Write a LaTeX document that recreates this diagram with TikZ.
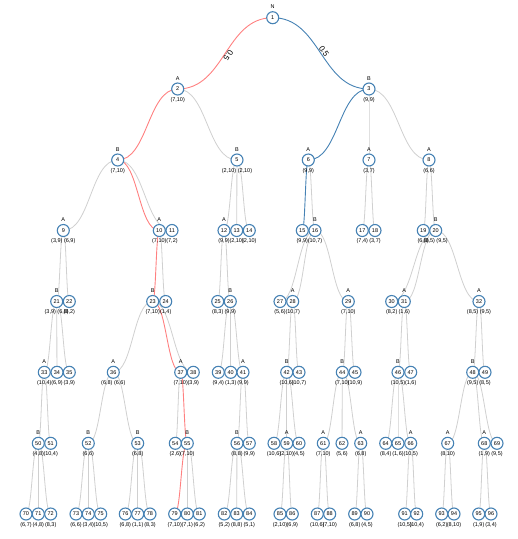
\documentclass[tikz,border=0pt]{standalone}
\usepackage{fontspec}
\setmainfont{Liberation Sans}
\usetikzlibrary{calc}
\definecolor{nodeblue}{RGB}{70,130,180}
\definecolor{edgegray}{RGB}{208,208,208}
\definecolor{pathred}{RGB}{255,128,128}
\definecolor{pathblue}{RGB}{70,130,180}
\pgfdeclarelayer{edgelayer}
\pgfsetlayers{edgelayer,main}
\tikzset{
  tn/.style={circle,draw=nodeblue,line width=1.1pt,fill=white,minimum size=12pt,inner sep=0pt,font=\fontsize{5.5}{6}\selectfont},
  toplab/.style={inner sep=0pt,font=\fontsize{5.5}{6}\selectfont},
  botlab/.style={inner sep=0pt,font=\fontsize{5.5}{6}\selectfont},
  edge/.style={draw=edgegray,line width=0.8pt},
  redpath/.style={draw=pathred,line width=0.9pt},
  bluepath/.style={draw=pathblue,line width=0.9pt},
  elab/.style={inner sep=0.5pt,font=\fontsize{8}{9}\selectfont,sloped,allow upside down,above}
}
\newcommand\gnode[5]{%
  \node[tn] (n#1) at (#2,#3) {#1};
  \node[toplab] at ([yshift=10.7pt]n#1.center) {#4};
  \node[botlab] at ([yshift=-10.7pt]n#1.center) {#5};
}
\newcommand\gedge[3][]{%
  \draw[edge,#1] let \p1=(n#2.center), \p2=(n#3.center) in
    (\p1) .. controls ({(\x1+\x2)/2},\y1) and ({(\x1+\x2)/2},\y2) .. (\p2);
}
\newcommand\gledge[3][]{%
  \draw[edge,#1] let \p1=(n#2.center), \p2=(n#3.center) in
    (\p1) .. controls ({(\x1+\x2)/2},\y1) and ({(\x1+\x2)/2},\y2) .. node[elab,pos=0.5]{0.5} (\p2);
}
\begin{document}
\begin{tikzpicture}[x=1pt,y=-1pt]
\useasboundingbox (0,0) rectangle (518,539);
% level 0
\gnode{1}{272.7}{17.7}{N}{}
% level 1
\gnode{2}{177.7}{89}{A}{(7,10)}
\gnode{3}{369}{89}{B}{(9,9)}
% level 2
\gnode{4}{117.7}{160}{B}{(7,10)}
\gnode{5}{237}{160}{B}{(2,10) (2,10)}
\gnode{6}{308.3}{160}{A}{(9,9)}
\gnode{7}{369}{160}{A}{(3,7)}
\gnode{8}{429}{160}{A}{(6,6)}
% level 3
\gnode{9}{63.3}{230.5}{A}{(3,9) (6,9)}
\gnode{10}{159.3}{230.5}{A}{(7,10)}
\gnode{11}{172}{230.5}{}{(7,2)}
\gnode{12}{224}{230.5}{A}{(9,9)}
\gnode{13}{236.7}{230.5}{}{(2,10)}
\gnode{14}{249.3}{230.5}{}{(2,10)}
\gnode{15}{302.3}{230.5}{}{(9,9)}
\gnode{16}{315}{230.5}{B}{(10,7)}
\gnode{17}{362.3}{230.5}{}{(7,4)}
\gnode{18}{375}{230.5}{}{(3,7)}
\gnode{19}{423.3}{230.5}{}{(6,8)}
\gnode{20}{435.7}{230.5}{B}{(8,5) (9,5)}
% level 4
\gnode{21}{56.7}{301.5}{B}{(3,9) (6,8)}
\gnode{22}{69.3}{301.5}{}{(8,2)}
\gnode{23}{152.7}{301.5}{B}{(7,10)}
\gnode{24}{165.7}{301.5}{}{(1,4)}
\gnode{25}{217.7}{301.5}{}{(8,3)}
\gnode{26}{230.3}{301.5}{B}{(9,9)}
\gnode{27}{280}{301.5}{}{(5,6)}
\gnode{28}{292.7}{301.5}{A}{(10,7)}
\gnode{29}{348.3}{301.5}{A}{(7,10)}
\gnode{30}{391.7}{301.5}{}{(8,2)}
\gnode{31}{404.3}{301.5}{A}{(1,6)}
\gnode{32}{479}{301.5}{A}{(8,5) (9,5)}
% level 5
\gnode{33}{44.3}{372.3}{A}{(10,4)}
\gnode{34}{57}{372.3}{}{(6,9)}
\gnode{35}{69.3}{372.3}{}{(3,9)}
\gnode{36}{113.3}{372.3}{A}{(6,8) (6,6)}
\gnode{37}{180.7}{372.3}{A}{(7,10)}
\gnode{38}{193.3}{372.3}{}{(3,9)}
\gnode{39}{218.3}{372.3}{}{(9,4)}
\gnode{40}{230.7}{372.3}{}{(1,3)}
\gnode{41}{243}{372.3}{A}{(9,9)}
\gnode{42}{286.7}{372.3}{B}{(10,6)}
\gnode{43}{299}{372.3}{}{(10,7)}
\gnode{44}{342.3}{372.3}{B}{(7,10)}
\gnode{45}{355}{372.3}{}{(10,9)}
\gnode{46}{398}{372.3}{B}{(10,5)}
\gnode{47}{410.7}{372.3}{}{(1,6)}
\gnode{48}{472.7}{372.3}{B}{(9,5)}
\gnode{49}{485}{372.3}{}{(8,5)}
% level 6
\gnode{50}{38.3}{443.3}{B}{(4,8)}
\gnode{51}{50.7}{443.3}{}{(10,4)}
\gnode{52}{88.3}{443.3}{B}{(6,6)}
\gnode{53}{137.7}{443.3}{B}{(6,8)}
\gnode{54}{175.3}{443.3}{}{(2,6)}
\gnode{55}{187.3}{443.3}{B}{(7,10)}
\gnode{56}{237}{443.3}{B}{(8,8)}
\gnode{57}{249.3}{443.3}{}{(9,9)}
\gnode{58}{274}{443.3}{}{(10,6)}
\gnode{59}{286.7}{443.3}{A}{(2,10)}
\gnode{60}{299}{443.3}{}{(4,5)}
\gnode{61}{323.3}{443.3}{A}{(7,10)}
\gnode{62}{342}{443.3}{}{(5,6)}
\gnode{63}{360.7}{443.3}{A}{(6,8)}
\gnode{64}{385.7}{443.3}{}{(8,4)}
\gnode{65}{398}{443.3}{}{(1,6)}
\gnode{66}{410.7}{443.3}{A}{(10,5)}
\gnode{67}{447.7}{443.3}{A}{(8,10)}
\gnode{68}{484.3}{443.3}{A}{(1,9)}
\gnode{69}{497}{443.3}{}{(9,5)}
% level 7
\gnode{70}{26}{514}{}{(6,7)}
\gnode{71}{38.3}{514}{}{(4,8)}
\gnode{72}{50.7}{514}{}{(8,3)}
\gnode{73}{76}{514}{}{(6,6)}
\gnode{74}{88.3}{514}{}{(3,4)}
\gnode{75}{100.7}{514}{}{(10,5)}
\gnode{76}{125.3}{514}{}{(6,8)}
\gnode{77}{137.7}{514}{}{(1,1)}
\gnode{78}{150}{514}{}{(8,3)}
\gnode{79}{174.7}{514}{}{(7,10)}
\gnode{80}{187.3}{514}{}{(7,1)}
\gnode{81}{199.3}{514}{}{(6,2)}
\gnode{82}{224.3}{514}{}{(5,2)}
\gnode{83}{236.7}{514}{}{(8,8)}
\gnode{84}{249.3}{514}{}{(5,1)}
\gnode{85}{280}{514}{}{(2,10)}
\gnode{86}{292.3}{514}{}{(6,9)}
\gnode{87}{317.3}{514}{}{(10,6)}
\gnode{88}{329.7}{514}{}{(7,10)}
\gnode{89}{354.7}{514}{}{(6,8)}
\gnode{90}{367}{514}{}{(4,5)}
\gnode{91}{404.7}{514}{}{(10,5)}
\gnode{92}{416.7}{514}{}{(10,4)}
\gnode{93}{441.7}{514}{}{(6,2)}
\gnode{94}{454}{514}{}{(8,10)}
\gnode{95}{478.7}{514}{}{(1,9)}
\gnode{96}{491}{514}{}{(3,4)}
\begin{pgfonlayer}{edgelayer}
% gray edges
\gedge{2}{5}
\gedge{3}{7}\gedge{3}{8}
\gedge{4}{9}\gedge{4}{11}
\gedge{5}{12}\gedge{5}{13}\gedge{5}{14}
\gedge{6}{16}
\gedge{7}{17}\gedge{7}{18}
\gedge{8}{19}\gedge{8}{20}
\gedge{9}{21}\gedge{9}{22}
\gedge{10}{24}
\gedge{12}{25}\gedge{12}{26}
\gedge{16}{27}\gedge{16}{28}\gedge{16}{29}
\gedge{20}{30}\gedge{20}{31}\gedge{20}{32}
\gedge{21}{33}\gedge{21}{34}\gedge{21}{35}
\gedge{23}{36}\gedge{23}{38}
\gedge{26}{39}\gedge{26}{40}\gedge{26}{41}
\gedge{28}{42}\gedge{28}{43}
\gedge{29}{44}\gedge{29}{45}
\gedge{31}{46}\gedge{31}{47}
\gedge{32}{48}\gedge{32}{49}
\gedge{33}{50}\gedge{33}{51}
\gedge{36}{52}\gedge{36}{53}
\gedge{37}{54}
\gedge{41}{56}\gedge{41}{57}
\gedge{42}{58}\gedge{42}{59}\gedge{42}{60}
\gedge{44}{61}\gedge{44}{62}\gedge{44}{63}
\gedge{46}{64}\gedge{46}{65}\gedge{46}{66}
\gedge{48}{67}\gedge{48}{68}\gedge{48}{69}
\gedge{50}{70}\gedge{50}{71}\gedge{50}{72}
\gedge{52}{73}\gedge{52}{74}\gedge{52}{75}
\gedge{53}{76}\gedge{53}{77}\gedge{53}{78}
\gedge{55}{80}\gedge{55}{81}
\gedge{56}{82}\gedge{56}{83}\gedge{56}{84}
\gedge{59}{85}\gedge{59}{86}
\gedge{61}{87}\gedge{61}{88}
\gedge{63}{89}\gedge{63}{90}
\gedge{66}{91}\gedge{66}{92}
\gedge{67}{93}\gedge{67}{94}
\gedge{68}{95}\gedge{68}{96}
% highlighted paths
\gledge[redpath]{1}{2}
\gedge[redpath]{2}{4}
\gedge[redpath]{4}{10}
\gedge[redpath]{10}{23}
\gedge[redpath]{23}{37}
\gedge[redpath]{37}{55}
\gedge[redpath]{55}{79}
\gledge[bluepath]{1}{3}
\gedge[bluepath]{3}{6}
\gedge[bluepath]{6}{15}
\end{pgfonlayer}
\end{tikzpicture}
\end{document}
